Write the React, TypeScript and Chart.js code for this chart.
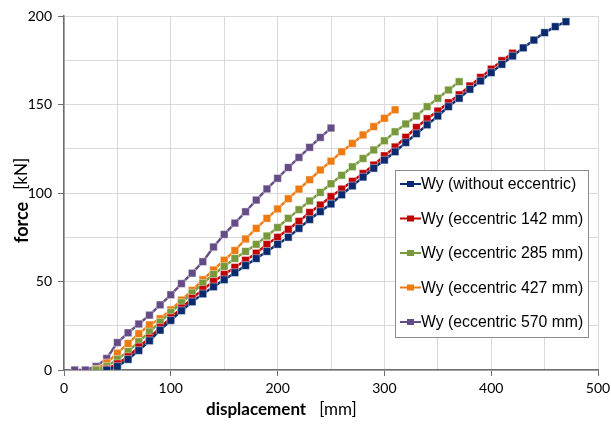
import React, { useEffect, useRef } from "react";
import { Chart, registerables } from "chart.js";

Chart.register(...registerables);

// ---- data ----
const seriesLabels = [
  "Wy (without eccentric)",
  "Wy (eccentric 142 mm)",
  "Wy (eccentric 285 mm)",
  "Wy (eccentric 427 mm)",
  "Wy (eccentric 570 mm)",
];
const seriesColors = ["#0B2A6E", "#C00000", "#77993C", "#EE7A12", "#654C86"];

const blueX = [40, 50, 60, 70, 80, 90, 100, 110, 120, 130, 140, 150, 160, 170, 180, 190, 200, 210, 220, 230, 240, 250, 260, 270, 280, 290, 300, 310, 320, 330, 340, 350, 360, 370, 380, 390, 400, 410, 420, 430, 440, 450, 460, 470];
const blueY = [0, 2, 6, 11, 16.5, 22.5, 28, 33.5, 38.5, 43, 47, 51, 55, 59, 63, 67, 71, 75, 80, 85, 89.5, 93.8, 99, 104, 109, 114, 118.6, 123.3, 128.5, 133.5, 138.5, 143.5, 148.8, 153.5, 158.6, 163.3, 168, 172.7, 177.4, 182, 186.4, 190.6, 194, 196.8];

const redX = [40, 50, 60, 70, 80, 90, 100, 110, 120, 130, 140, 150, 160, 170, 180, 190, 200, 210, 220, 230, 240, 250, 260, 270, 280, 290, 300, 310, 320, 330, 340, 350, 360, 370, 380, 390, 400, 410, 420];
const redY = [0.5, 3.5, 7.5, 13, 18, 24, 29.5, 35, 40.5, 45.5, 50, 54, 58, 62, 66, 71, 75, 79.5, 84, 89, 93.2, 98, 102.2, 106.6, 111, 115.8, 121, 126, 131.5, 137, 142, 146.3, 151, 155.5, 160.5, 165.3, 170, 174.8, 179];

const greenX = [30, 40, 50, 60, 70, 80, 90, 100, 110, 120, 130, 140, 150, 160, 170, 180, 190, 200, 210, 220, 230, 240, 250, 260, 270, 280, 290, 300, 310, 320, 330, 340, 350, 360, 370];
const greenY = [0, 2, 6, 10.5, 16, 21.5, 27, 32.5, 38, 43.5, 49, 54, 58.5, 63, 67, 71, 75.7, 80.5, 85.7, 90.6, 95.5, 100.3, 105.2, 110, 114.8, 119.5, 124.3, 129.5, 134.6, 139, 143.5, 148.8, 153.5, 158.2, 162.9];

const orangeX = [30, 40, 50, 60, 70, 80, 90, 100, 110, 120, 130, 140, 150, 160, 170, 180, 190, 200, 210, 220, 230, 240, 250, 260, 270, 280, 290, 300, 310];
const orangeY = [0.5, 4, 9.5, 15, 20.5, 25.5, 29, 34, 39.5, 45, 51, 56.5, 62, 67.5, 74, 80, 85.7, 91, 96.8, 102.2, 107.5, 113, 118, 123.3, 128, 132.8, 137.5, 142.2, 147];

const purpleX = [10, 20, 30, 40, 50, 60, 70, 80, 90, 100, 110, 120, 130, 140, 150, 160, 170, 180, 190, 200, 210, 220, 230, 240, 250];
const purpleY = [0, 0, 2, 6.5, 15.5, 21, 26, 31, 36.8, 42.5, 48.8, 54.7, 61.2, 69.5, 76.6, 83, 89.4, 96, 102.3, 108.3, 114.4, 120.1, 125.8, 131.4, 136.7];

const seriesX = [blueX, redX, greenX, orangeX, purpleX];
const seriesY = [blueY, redY, greenY, orangeY, purpleY];

const xTickLabels = [0, 100, 200, 300, 400, 500];
const yTickLabels = [0, 50, 100, 150, 200];

const zip = (xs: number[], ys: number[]) => xs.map((x, i) => ({ x, y: ys[i] }));

const TICK_FONT = "Lato, 'Open Sans', sans-serif";
const LEGEND_FONT = "'Liberation Sans', Arial, sans-serif";

const titlesAndLegend = {
  id: "titlesAndLegend",
  afterDraw(chart: any) {
    const ctx = chart.ctx as CanvasRenderingContext2D;
    ctx.save();
    // x-axis title
    ctx.fillStyle = "#000";
    ctx.textBaseline = "middle";
    ctx.textAlign = "left";
    ctx.font = `bold 17px ${TICK_FONT}`;
    const xt1 = "displacement";
    const xStart = 206;
    const xY = 410;
    ctx.fillText(xt1, xStart, xY);
    const w1 = ctx.measureText(xt1).width;
    ctx.font = `17px ${TICK_FONT}`;
    ctx.fillText("[mm]", xStart + w1 + 13, xY);

    // y-axis title
    ctx.translate(22, 243);
    ctx.rotate(-Math.PI / 2);
    ctx.font = `bold 18px ${TICK_FONT}`;
    ctx.fillText("force", 0, 0);
    const w2 = ctx.measureText("force").width;
    ctx.font = `17px ${TICK_FONT}`;
    ctx.fillText("[kN]", w2 + 12, 0);
    ctx.restore();

    // legend
    ctx.save();
    const bx = 395.5, by = 170.5, bw = 193, bh = 167;
    ctx.fillStyle = "#fff";
    ctx.fillRect(bx, by, bw, bh);
    ctx.strokeStyle = "#8c8c8c";
    ctx.lineWidth = 1;
    ctx.strokeRect(bx, by, bw, bh);
    ctx.font = `15.8px ${LEGEND_FONT}`;
    ctx.textBaseline = "middle";
    ctx.textAlign = "left";
    chart.data.datasets.forEach((ds: any, i: number) => {
      const cy = 184 + i * 34.5;
      ctx.strokeStyle = ds.borderColor;
      ctx.lineWidth = 2;
      ctx.beginPath();
      ctx.moveTo(400, cy);
      ctx.lineTo(421, cy);
      ctx.stroke();
      ctx.fillStyle = ds.backgroundColor;
      ctx.fillRect(407, cy - 3, 7, 6);
      ctx.fillStyle = "#000";
      ctx.fillText(ds.label, 421, cy + 1);
    });
    ctx.restore();
  },
};

export default function App() {
  const ref = useRef<HTMLCanvasElement | null>(null);
  useEffect(() => {
    if (!ref.current) return;
    const chart = new Chart(ref.current, {
      type: "line",
      data: {
        datasets: seriesLabels.map((label, i) => ({
          label,
          data: zip(seriesX[i], seriesY[i]),
          borderColor: seriesColors[i],
          backgroundColor: seriesColors[i],
          pointBackgroundColor: seriesColors[i],
          pointBorderColor: "rgba(255,255,255,0.55)",
          pointBorderWidth: 0.8,
          pointStyle: "rect",
          pointRadius: 5.4,
          borderWidth: 2.4,
          tension: 0,
          fill: false,
        })),
      },
      plugins: [titlesAndLegend],
      options: {
        animation: false,
        responsive: false,
        maintainAspectRatio: false,
        layout: { padding: { left: 0, right: 13, top: 16, bottom: 0 } },
        plugins: {
          legend: { display: false },
          tooltip: { enabled: false },
          title: { display: false },
        },
        scales: {
          x: {
            type: "linear",
            min: 0,
            max: 500,
            afterFit: (s: any) => {
              s.height = 55;
              s.paddingLeft = 0;
              s.paddingRight = 0;
            },
            afterBuildTicks: (s: any) => {
              const t = [];
              for (const v of xTickLabels) {
                t.push({ value: v });
                if (v < 500) t.push({ value: v + 50 });
              }
              s.ticks = t.sort((a: any, b: any) => a.value - b.value);
            },
            ticks: {
              autoSkip: false,
              maxRotation: 0,
              padding: 4,
              color: "#000",
              font: { family: TICK_FONT, size: 14 },
              callback: (v: any) => (xTickLabels.includes(Number(v)) ? String(v) : ""),
            },
            grid: {
              color: "#d9d9d9",
              lineWidth: 1,
              tickLength: 6,
              tickColor: (c: any) =>
                c.tick && xTickLabels.includes(c.tick.value) ? "#6e6e6e" : "rgba(0,0,0,0)",
            },
            border: { color: "#6e6e6e", width: 1.5 },
          },
          y: {
            type: "linear",
            min: 0,
            max: 200,
            afterFit: (s: any) => {
              s.width = 64;
              s.paddingTop = 0;
              s.paddingBottom = 0;
            },
            afterBuildTicks: (s: any) => {
              const t = [];
              for (const v of yTickLabels) {
                t.push({ value: v });
                if (v < 200) t.push({ value: v + 25 });
              }
              s.ticks = t.sort((a: any, b: any) => a.value - b.value);
            },
            ticks: {
              autoSkip: false,
              padding: 6,
              color: "#000",
              font: { family: TICK_FONT, size: 14 },
              callback: (v: any) => (yTickLabels.includes(Number(v)) ? String(v) : ""),
            },
            grid: {
              color: "#d9d9d9",
              lineWidth: 1,
              tickLength: 6,
              tickColor: (c: any) =>
                c.tick && yTickLabels.includes(c.tick.value) ? "#6e6e6e" : "rgba(0,0,0,0)",
            },
            border: { color: "#6e6e6e", width: 1.5 },
          },
        },
      },
    });
    return () => chart.destroy();
  }, []);
  return (
    <div style={{ position: "fixed", left: 0, top: 0, width: 611, height: 425, background: "#fff" }}>
      <canvas ref={ref} width={611} height={425} style={{ width: 611, height: 425 }} />
    </div>
  );
}
